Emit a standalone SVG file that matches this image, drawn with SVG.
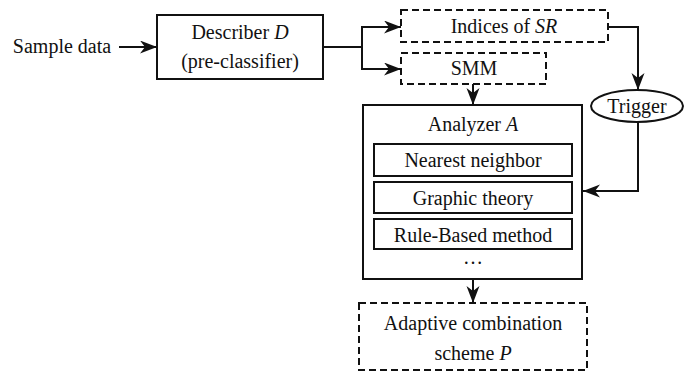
<svg xmlns="http://www.w3.org/2000/svg" width="689" height="372" viewBox="0 0 689 372" font-family="'Liberation Serif', 'DejaVu Serif', serif">
  <style>
    text { font-family: 'Liberation Serif', 'DejaVu Serif', serif; font-size: 20px; fill: #111; text-anchor: middle; }
    .box { fill: #fff; stroke: #111; stroke-width: 2; }
    .dash { fill: #fff; stroke: #111; stroke-width: 2; stroke-dasharray: 7 4; }
    .wire { fill: none; stroke: #111; stroke-width: 2; }
    .it { font-style: italic; }
  </style>
  <defs>
    <marker id="arrow" markerUnits="userSpaceOnUse" markerWidth="18" markerHeight="14" refX="17" refY="6.5" orient="auto">
      <path d="M0,0 L17,6.5 L0,13 L5,6.5 Z" fill="#111"/>
    </marker>
  </defs>

  <rect width="689" height="372" fill="#fff"/>

  <text x="62" y="53">Sample data</text>

  <g id="describer">
    <rect class="box" x="157" y="15" width="166" height="64"/>
    <text x="240" y="39">Describer <tspan class="it">D</tspan></text>
    <text x="240" y="68">(pre-classifier)</text>
  </g>

  <g id="indices">
    <rect class="dash" x="401" y="10" width="207" height="32"/>
    <text x="504" y="33">Indices of <tspan class="it">SR</tspan></text>
  </g>

  <g id="smm">
    <rect class="dash" x="401" y="53" width="145" height="31"/>
    <text x="474" y="75">SMM</text>
  </g>

  <g id="trigger">
    <ellipse class="box" cx="637" cy="106" rx="46" ry="16"/>
    <text x="637" y="113">Trigger</text>
  </g>

  <g id="analyzer">
    <rect class="box" x="363" y="105" width="219" height="174"/>
    <text x="473" y="131">Analyzer <tspan class="it">A</tspan></text>
    <rect class="box" x="374" y="144" width="198" height="32"/>
    <text x="473" y="167">Nearest neighbor</text>
    <rect class="box" x="374" y="182" width="198" height="31"/>
    <text x="473" y="205">Graphic theory</text>
    <rect class="box" x="374" y="219" width="198" height="30"/>
    <text x="473" y="242">Rule-Based method</text>
    <text x="473" y="264">…</text>
  </g>

  <g id="combination">
    <rect class="dash" x="359" y="303" width="228" height="67"/>
    <text x="473" y="330">Adaptive combination</text>
    <text x="473" y="360">scheme <tspan class="it">P</tspan></text>
  </g>

  <g id="connectors">
    <line class="wire" x1="119" y1="47" x2="157" y2="47" marker-end="url(#arrow)"/>
    <path class="wire" d="M323,47 H362"/>
    <path class="wire" d="M362,27 V69"/>
    <path class="wire" d="M361,27 H401" marker-end="url(#arrow)"/>
    <path class="wire" d="M361,69 H401" marker-end="url(#arrow)"/>
    <path class="wire" d="M473,84 V105" marker-end="url(#arrow)"/>
    <path class="wire" d="M608,27 H638 V90" marker-end="url(#arrow)"/>
    <path class="wire" d="M638,122 V191 H583" marker-end="url(#arrow)"/>
    <path class="wire" d="M473,279 V303" marker-end="url(#arrow)"/>
  </g>
</svg>
